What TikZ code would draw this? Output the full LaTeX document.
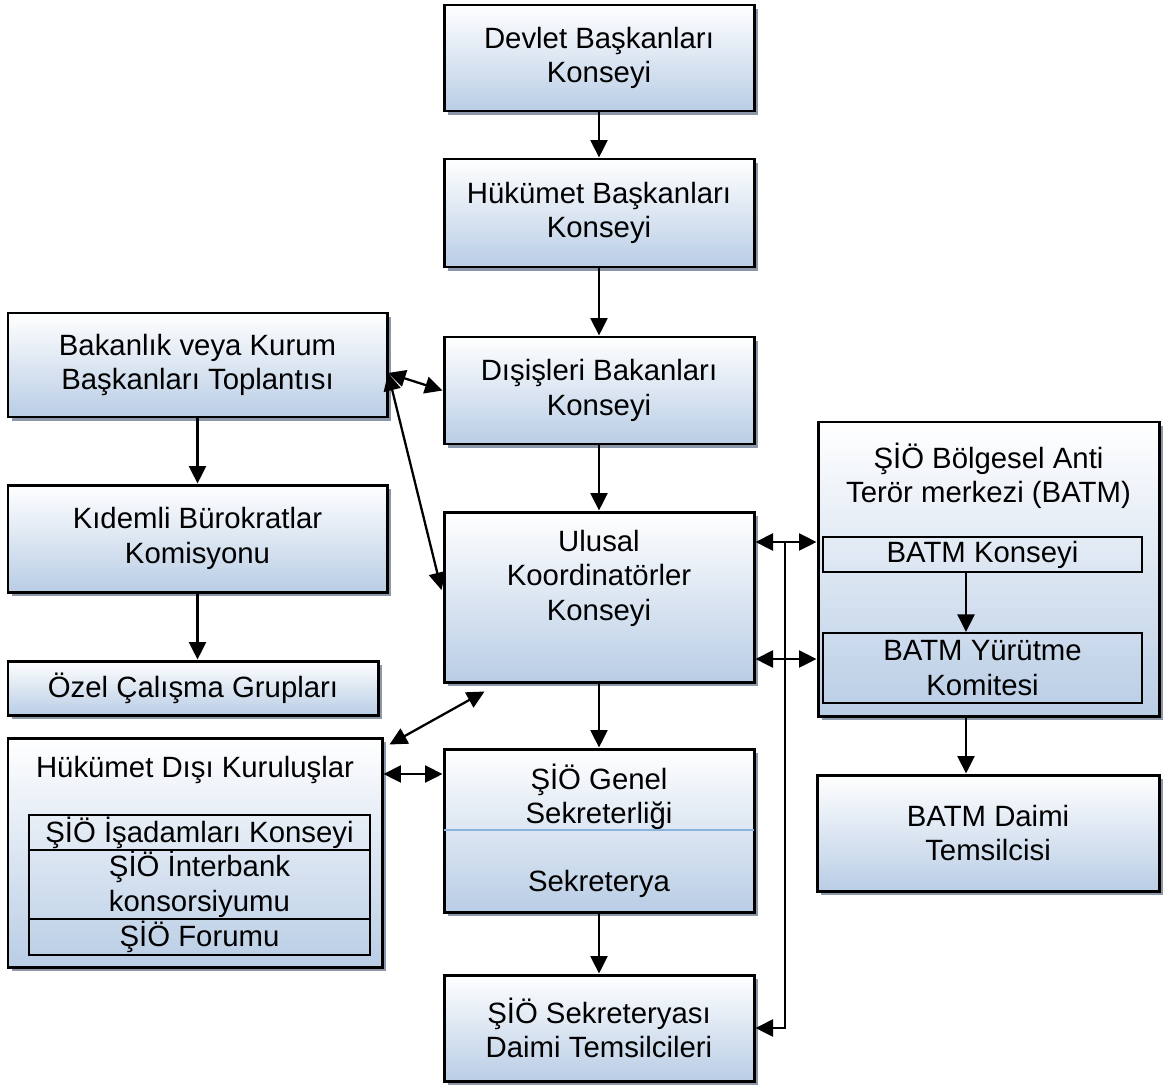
\documentclass[tikz,border=0pt]{standalone}
\usepackage{fontspec}
\setmainfont{Liberation Sans}
\usepackage{tikz}
\usetikzlibrary{positioning,calc,shadows,arrows.meta}
\definecolor{kutumavi}{RGB}{185,205,229}
\definecolor{golge}{RGB}{140,152,170}
\definecolor{cizgimavi}{RGB}{140,178,222}
\newcommand{\pix}{0.02cm}

\begin{document}
\begin{tikzpicture}[x=0.02cm, y=-0.02cm,
    font=\fontsize{16.7}{19.6}\selectfont,
    kutu/.style={draw, line width=1.7pt, top color=white, bottom color=kutumavi,
        align=center, inner sep=0pt,
        drop shadow={shadow xshift=0.08cm, shadow yshift=-0.08cm, fill=golge, opacity=1}},
    ickutu/.style={draw, line width=1.2pt, align=center, inner sep=0pt},
    yazi/.style={align=center, inner sep=0pt},
    ok/.style={line width=1.3pt, -{Triangle[length=0.35cm,width=0.34cm]}},
    ciftok/.style={line width=1.3pt, {Triangle[length=0.35cm,width=0.34cm]}-{Triangle[length=0.35cm,width=0.34cm]}}]
    \useasboundingbox (0,0) rectangle (1165,1088);

    % orta sutun
    \node[kutu, minimum width=310*\pix, minimum height=106*\pix] (devlet) at (599,58) {Devlet Başkanları\\Konseyi};
    \node[kutu, minimum width=310*\pix, minimum height=108*\pix] (hukumet) at (599,213) {Hükümet Başkanları\\Konseyi};
    \node[kutu, minimum width=310*\pix, minimum height=107*\pix] (disisleri) at (599,390.5) {Dışişleri Bakanları\\Konseyi};
    \node[kutu, minimum width=310*\pix, minimum height=170*\pix] (ulusal) at (599,597) {};
    \node[yazi] (ulusalyazi) at (599,578) {Ulusal\\Koordinatörler\\Konseyi};
    \node[kutu, minimum width=310*\pix, minimum height=163*\pix] (genel) at (599,830.5) {};
    \node[yazi] (genelust) at (599,797) {ŞİÖ Genel\\Sekreterliği};
    \node[yazi] (genelalt) at (599,884) {Sekreterya};
    \coordinate (gb) at (0,830);
    \draw[cizgimavi, line width=1.1pt, shorten <=0.85pt, shorten >=0.85pt] (genel.west |- gb) -- (genel.east |- gb);
    \node[kutu, minimum width=310*\pix, minimum height=106*\pix] (daimitem) at (599,1028) {ŞİÖ Sekreteryası\\Daimi Temsilcileri};

    % sol sutun
    \node[kutu, minimum width=379*\pix, minimum height=104*\pix] (bakanlik) at (197.5,365) {Bakanlık veya Kurum\\Başkanları Toplantısı};
    \node[kutu, minimum width=379*\pix, minimum height=107*\pix] (kidemli) at (197.5,538.5) {Kıdemli Bürokratlar\\Komisyonu};
    \node[kutu, minimum width=370*\pix, minimum height=54*\pix] (ozel) at (193,688) {Özel Çalışma Grupları};
    \node[kutu, minimum width=374*\pix, minimum height=229*\pix] (hdk) at (195,852.5) {};
    \node[yazi] (hdkbaslik) at (195,770) {Hükümet Dışı Kuruluşlar};
    \node[ickutu, minimum width=341*\pix, minimum height=35*\pix] (isadam) at (199.5,832.5) {ŞİÖ İşadamları Konseyi};
    \node[ickutu, minimum width=341*\pix, minimum height=69*\pix] (interbank) at (199.5,884.5) {ŞİÖ İnterbank\\konsorsiyumu};
    \node[ickutu, minimum width=341*\pix, minimum height=36*\pix] (forum) at (199.5,937) {ŞİÖ Forumu};

    % sag sutun
    \node[kutu, minimum width=341*\pix, minimum height=294*\pix] (batm) at (988.5,569) {};
    \node[yazi] (batmbaslik) at (988.5,476) {ŞİÖ Bölgesel Anti\\Terör merkezi (BATM)};
    \node[ickutu, minimum width=319*\pix, minimum height=35*\pix] (batmkonsey) at (982.5,554.5) {BATM Konseyi};
    \node[ickutu, minimum width=319*\pix, minimum height=70*\pix] (batmyurutme) at (982.5,668) {BATM Yürütme\\Komitesi};
    \node[kutu, minimum width=342*\pix, minimum height=116*\pix] (batmdaimi) at (988,833) {BATM Daimi\\Temsilcisi};

    % baglantilar
    \draw[ok] (devlet) -- (hukumet);
    \draw[ok] (hukumet) -- (disisleri);
    \draw[ok] (disisleri) -- (ulusal);
    \draw[ok] (ulusal) -- (genel);
    \draw[ok] (genel) -- (daimitem);
    \draw[ok] (bakanlik) -- (kidemli);
    \draw[ok] (kidemli.south) -- (kidemli.south |- ozel.north);

    \coordinate (bk) at (388,373);
    \draw[ciftok] (bk) -- (disisleri.west);
    \draw[ciftok] (bk) -- ($(ulusal.west)+(-1,-7)$);
    \draw[ciftok] ($(ulusal.south west)+(42,8)$) -- ($(hdk.north east)+(6,8)$);
    \coordinate (hg) at (0,774);
    \draw[ciftok] (hdk.east |- hg) -- (genel.west |- hg);

    \coordinate (r1) at (0,542);
    \coordinate (r2) at (0,659);
    \coordinate (dik) at (785,0);
    \draw[ciftok] (ulusal.east |- r1) -- (batm.west |- r1);
    \draw[ciftok] (ulusal.east |- r2) -- (batm.west |- r2);
    \draw[ok] (dik |- r1) |- (daimitem.east); % sekreterya temsilcilerine

    \coordinate (ax) at (966,0);
    \draw[ok] (batmkonsey.south -| ax) -- (batmyurutme.north -| ax);
    \draw[ok] (batm.south -| ax) -- (batmdaimi.north -| ax);
\end{tikzpicture}
\end{document}
